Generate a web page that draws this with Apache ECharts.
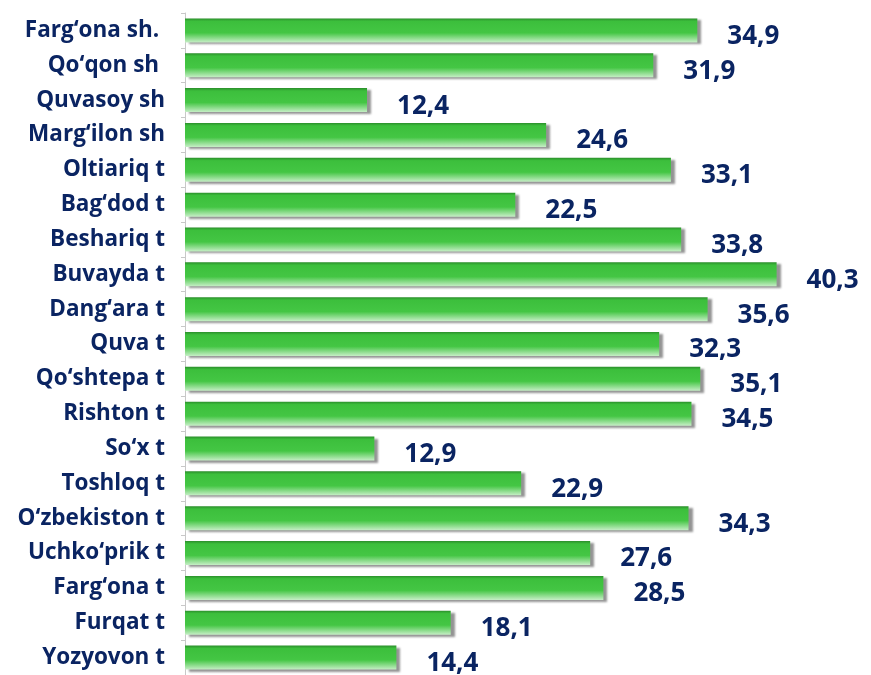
<!DOCTYPE html>
<html>
<head>
<meta charset="utf-8">
<script src="https://cdn.jsdelivr.net/npm/echarts@6/dist/echarts.min.js"></script>
<style>
html,body{margin:0;padding:0;background:#fff;}
#chart{width:871px;height:675px;}
</style>
</head>
<body>
<div id="chart"></div>
<script>
const categories = ["Farg‘ona sh. ", "Qo‘qon sh ", "Quvasoy sh", "Marg‘ilon sh", "Oltiariq t", "Bag‘dod t", "Beshariq t", "Buvayda t", "Dang‘ara t", "Quva t", "Qo‘shtepa t", "Rishton t", "So‘x t", "Toshloq t", "O‘zbekiston t", "Uchko‘prik t", "Farg‘ona t", "Furqat t", "Yozyovon t"];
const values = [34.9, 31.9, 12.4, 24.6, 33.1, 22.5, 33.8, 40.3, 35.6, 32.3, 35.1, 34.5, 12.9, 22.9, 34.3, 27.6, 28.5, 18.1, 14.4];

const chart = echarts.init(document.getElementById('chart'), null, {renderer: 'canvas'});
const navy = '#0a2462';
chart.setOption({
  animation: false,
  backgroundColor: '#ffffff',
  grid: {left: 185, top: 13, width: 660.6, height: 664, containLabel: false},
  xAxis: {
    type: 'value', min: 0, max: 45,
    show: false
  },
  yAxis: {
    type: 'category',
    data: categories,
    inverse: true,
    axisLine: {show: true, lineStyle: {color: '#c8c8c8', width: 1}},
    axisTick: {show: true, length: 4, lineStyle: {color: '#c8c8c8'}},
    axisLabel: {
      margin: 20,
      padding: [5, 0, 0, 0],
      fontFamily: 'Open Sans',
      fontWeight: 'bold',
      fontSize: 22.5,
      color: navy
    }
  },
  series: [{
    type: 'bar',
    data: values,
    barWidth: 24,
    itemStyle: {
      color: new echarts.graphic.LinearGradient(0, 0, 0, 1, [
        {offset: 0, color: '#2b8f2b'},
        {offset: 0.12, color: '#3cbf3c'},
        {offset: 0.6, color: '#44c644'},
        {offset: 1, color: '#c6eec6'}
      ]),
      shadowColor: 'rgba(60,60,60,0.55)',
      shadowOffsetX: 4,
      shadowOffsetY: 2,
      shadowBlur: 2
    },
    label: {
      show: true,
      position: 'right',
      distance: 30,
      offset: [0, 6],
      fontFamily: 'Open Sans',
      fontWeight: 'bold',
      fontSize: 26,
      color: navy,
      formatter: p => String(p.value).replace('.', ',')
    }
  }]
});
</script>
</body>
</html>
